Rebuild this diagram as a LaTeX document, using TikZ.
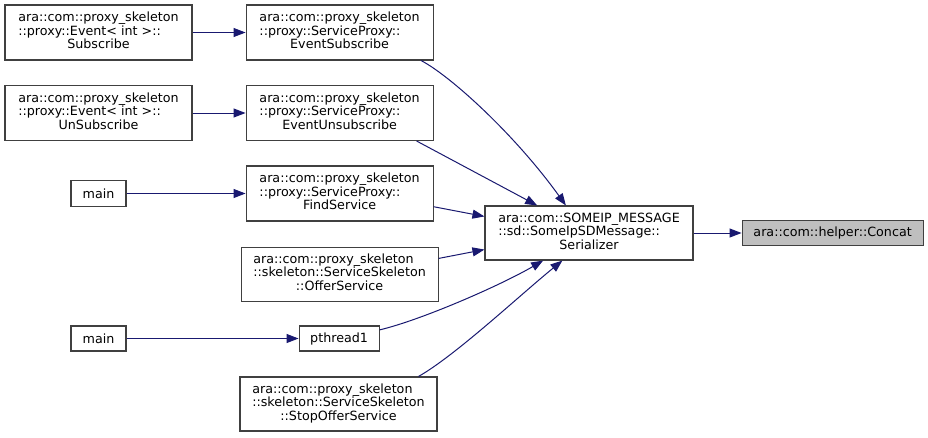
\documentclass[tikz,border=0pt]{standalone}
\usepackage{fontspec}
\setmainfont{DejaVu Sans}
\usepackage{xcolor}
\usetikzlibrary{arrows.meta,positioning}

\definecolor{midnight}{HTML}{191970}
\definecolor{grey25}{HTML}{404040}
\definecolor{grey75}{HTML}{BFBFBF}

\newcommand\fnlabel[3]{\begin{tabular}{@{}l@{}}#1\\#2\\\multicolumn{1}{@{}c@{}}{#3}\end{tabular}}

\begin{document}
\begin{tikzpicture}[
  x=1pt, y=-1pt,
  fnbox/.style={draw=grey25, fill=white, line width=1.1pt, align=center, inner sep=0pt,
    font=\fontsize{12.7}{13.3}\selectfont},
  wide/.style={fnbox, minimum width=187pt, minimum height=55pt},
  wider/.style={fnbox, minimum width=197pt, minimum height=54pt},
  short/.style={fnbox, minimum width=55pt, minimum height=26pt},
  current/.style={fnbox, fill=grey75, minimum width=181pt, minimum height=25pt},
  line/.style={-{Triangle[length=12pt, width=9pt]}, draw=midnight, line width=1pt}
]
\useasboundingbox[fill=white] (0,0) rectangle (928,437);

\node[wide] (ev-subscribe) at (98.5,32.5)
  {\fnlabel{ara::com::proxy\_skeleton}{::proxy::Event< int >::}{Subscribe}};
\node[wide, right=53pt of ev-subscribe] (proxy-subscribe)
  {\fnlabel{ara::com::proxy\_skeleton}{::proxy::ServiceProxy::}{EventSubscribe}};

\node[wide] (ev-unsubscribe) at (98.5,113)
  {\fnlabel{ara::com::proxy\_skeleton}{::proxy::Event< int >::}{UnSubscribe}};
\node[wide, right=53pt of ev-unsubscribe] (proxy-unsubscribe)
  {\fnlabel{ara::com::proxy\_skeleton}{::proxy::ServiceProxy::}{EventUnsubscribe}};

\node[short] (main-find) at (98.5,193.5) {main};
\node[wide, right=119pt of main-find] (find-service)
  {\fnlabel{ara::com::proxy\_skeleton}{::proxy::ServiceProxy::}{FindService}};

\node[wider, below=25pt of find-service] (offer-service)
  {\fnlabel{ara::com::proxy\_skeleton}{::skeleton::ServiceSkeleton}{::OfferService}};

\node[short, minimum height=25pt] (main-thread) at (98.5,338.5) {main};
\node[short, minimum width=80pt, minimum height=25pt, right=172pt of main-thread] (pthread) {pthread1};

\node[wider] (stop-offer) at (338.5,404)
  {\fnlabel{ara::com::proxy\_skeleton}{::skeleton::ServiceSkeleton}{::StopOfferService}};

\node[fnbox, minimum width=208pt, minimum height=54pt] (serializer) at (589,233)
  {\fnlabel{ara::com::SOMEIP\_MESSAGE}{::sd::SomeIpSDMessage::}{Serializer}};
\node[current, right=48pt of serializer] (concat) {ara::com::helper::Concat};

\draw[line] (ev-subscribe) -- (proxy-subscribe);
\draw[line] (ev-unsubscribe) -- (proxy-unsubscribe);
\draw[line] (main-find) -- (find-service);
\draw[line] (main-thread) -- (pthread);
\draw[line] (proxy-subscribe.-19.5) .. controls +(29,15) and +(-51,-71) .. (serializer.130.4);
\draw[line] (proxy-unsubscribe.-20.7) -- (serializer.152.6);
\draw[line] (find-service.-8.8) -- (serializer.171.3);
\draw[line] (offer-service.9.2) -- (serializer.-171.8);
\draw[line] (pthread.12) .. controls +(42,-10) and +(-43,25) .. (serializer.-149.6);
\draw[line] (stop-offer.19.9) .. controls +(37,-21) and +(-43,35) .. (serializer.-134);
\draw[line] (serializer) -- (concat);
\end{tikzpicture}
\end{document}
